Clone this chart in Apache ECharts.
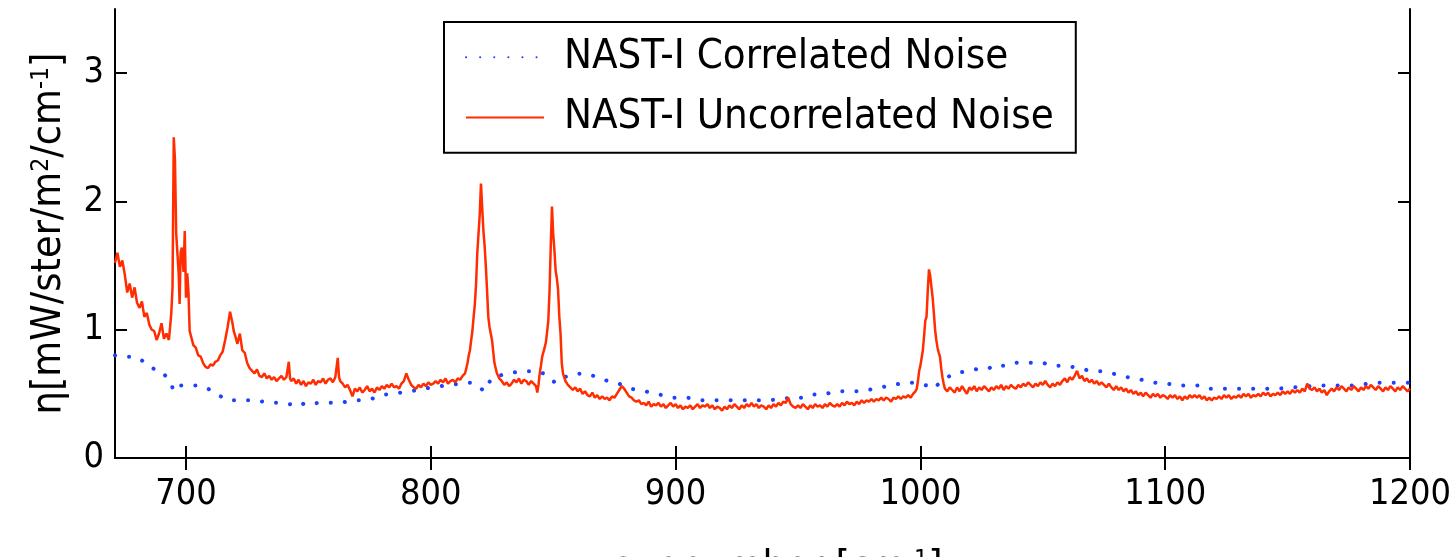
<!DOCTYPE html>
<html><head><meta charset="utf-8">
<script src="https://cdn.jsdelivr.net/npm/echarts@6/dist/echarts.min.js"></script>
<style>html,body{margin:0;padding:0;background:#fff}#c{width:1455px;height:557px}</style>
</head><body><div id="c"></div>
<script>
const xTicks = [700, 800, 900, 1000, 1100, 1200];
const yTicks = [0, 1, 2, 3];
const seriesNames = ['NAST-I Correlated Noise', 'NAST-I Uncorrelated Noise'];

const correlated = [[671,0.80],[675,0.79],[679,0.79],[683,0.75],[686,0.70],[690,0.68],[693.7,0.59],[695,0.52],[696,0.54],[697.4,0.565],[702,0.565],[705,0.565],[709,0.54],[712.4,0.50],[717,0.45],[723,0.45],[728.5,0.45],[734,0.43],[740,0.43],[744.4,0.41],[747,0.43],[749.2,0.41],[754,0.43],[759.5,0.43],[763,0.43],[768.7,0.45],[772,0.45],[778,0.47],[781.6,0.495],[791.8,0.52],[800,0.55],[808,0.57],[814.7,0.586],[817.1,0.586],[820,0.55],[821.8,0.52],[823.5,0.58],[825.3,0.63],[831,0.656],[836.8,0.677],[842.5,0.677],[846,0.66],[849.5,0.61],[850.8,0.586],[853,0.62],[858.7,0.656],[864.4,0.656],[870.3,0.61],[876,0.586],[881.7,0.54],[887.6,0.52],[893.3,0.495],[899.2,0.47],[904.9,0.47],[910.7,0.45],[920,0.45],[930,0.45],[938.4,0.45],[947.5,0.47],[953.4,0.47],[956.7,0.495],[960.2,0.495],[965.9,0.52],[971.6,0.52],[976.4,0.52],[982,0.544],[987.7,0.565],[993.6,0.586],[997,0.586],[1002.7,0.565],[1005,0.54],[1009,0.60],[1013.2,0.656],[1019,0.677],[1024.8,0.70],[1028.2,0.70],[1029.3,0.72],[1035.1,0.72],[1038.5,0.742],[1041.9,0.742],[1047.6,0.742],[1050.1,0.742],[1053.5,0.72],[1059.2,0.72],[1065.1,0.70],[1069.7,0.677],[1074.2,0.677],[1079,0.656],[1084.7,0.63],[1090.3,0.61],[1096.3,0.586],[1099.7,0.586],[1104.3,0.565],[1107.7,0.565],[1113.5,0.565],[1116.8,0.54],[1122.6,0.54],[1128.4,0.54],[1134.1,0.54],[1140,0.54],[1145.7,0.54],[1152,0.55],[1164.1,0.565],[1170,0.565],[1175.7,0.565],[1179.4,0.565],[1183.9,0.586],[1189.3,0.586],[1195.4,0.586],[1200,0.586]];

const uncorrelated = [[671,1.52],[672,1.60],[673,1.49],[674,1.54],[675,1.43],[676,1.29],[677,1.36],[678,1.25],[679,1.33],[680,1.21],[681,1.17],[682,1.22],[683,1.10],[684,1.13],[685,1.04],[686,1.00],[687,0.99],[688,0.92],[689,0.97],[690,1.05],[691,0.93],[692,0.97],[693,0.92],[693.5,1.02],[694,1.13],[694.5,1.33],[695,2.50],[695.5,2.32],[696,1.75],[696.5,1.74],[697,1.44],[697.4,1.20],[697.8,1.60],[698.3,1.64],[699,1.45],[699.5,1.77],[700,1.25],[700.5,1.44],[701,1.30],[701.5,0.99],[702,1.00],[703,0.88],[704,0.86],[705,0.80],[706,0.79],[707,0.74],[708,0.71],[709,0.70],[710,0.73],[711,0.72],[712,0.75],[713,0.76],[714,0.80],[715,0.83],[716,0.92],[717,1.02],[718,1.14],[719,1.05],[719.5,0.99],[720,0.96],[721,0.89],[722,0.97],[723,0.84],[724,0.82],[725,0.74],[726,0.70],[727,0.68],[728,0.66],[729,0.69],[730,0.64],[731,0.63],[732,0.66],[733,0.62],[734,0.64],[735,0.61],[736,0.63],[737,0.60],[738,0.62],[739,0.64],[740,0.61],[741,0.63],[742,0.75],[742.5,0.62],[743,0.60],[744,0.62],[745,0.58],[746,0.61],[747,0.57],[748,0.60],[749,0.56],[750,0.59],[751,0.58],[752,0.61],[753,0.57],[754,0.60],[755,0.59],[756,0.62],[757,0.58],[758,0.61],[759,0.62],[760,0.59],[761,0.63],[762,0.78],[762.5,0.63],[763,0.60],[764,0.58],[765,0.55],[766,0.57],[767,0.53],[768,0.48],[769,0.54],[770,0.52],[771,0.55],[772,0.51],[773,0.53],[774,0.56],[775,0.52],[776,0.54],[777,0.51],[778,0.55],[779,0.53],[780,0.56],[781,0.54],[782,0.57],[783,0.55],[784,0.58],[785,0.55],[786,0.56],[787,0.54],[788,0.58],[789,0.60],[790,0.66],[791,0.61],[792,0.57],[793,0.55],[794,0.54],[795,0.57],[796,0.55],[797,0.58],[798,0.56],[799,0.59],[800,0.57],[801,0.58],[802,0.60],[803,0.58],[804,0.61],[805,0.59],[806,0.62],[807,0.58],[808,0.60],[809,0.61],[810,0.59],[811,0.62],[812,0.61],[813,0.64],[814,0.66],[814.5,0.70],[815,0.74],[815.5,0.80],[816,0.84],[816.5,0.92],[817,0.99],[817.5,1.10],[818,1.20],[818.5,1.36],[819,1.60],[819.5,1.75],[820,1.90],[820.5,2.14],[821,1.95],[821.5,1.77],[822,1.65],[822.5,1.49],[823,1.30],[823.5,1.10],[824,1.02],[825,0.92],[825.5,0.83],[826,0.74],[827,0.66],[828,0.62],[829,0.60],[830,0.57],[831,0.59],[832,0.56],[833,0.58],[834,0.61],[835,0.59],[836,0.62],[837,0.58],[838,0.61],[839,0.60],[840,0.57],[841,0.60],[842,0.58],[843,0.56],[843.5,0.51],[844,0.57],[844.5,0.66],[845,0.72],[845.5,0.79],[846,0.80],[846.5,0.86],[847,0.90],[847.5,0.98],[848,1.07],[848.5,1.30],[849,1.65],[849.5,1.96],[850,1.75],[850.5,1.62],[851,1.46],[851.5,1.40],[852,1.31],[852.5,1.10],[853,0.97],[853.5,0.74],[854,0.66],[855,0.60],[856,0.57],[857,0.55],[858,0.53],[859,0.55],[860,0.52],[861,0.54],[862,0.50],[863,0.52],[864,0.49],[865,0.48],[866,0.51],[867,0.47],[868,0.49],[869,0.46],[870,0.48],[871,0.46],[872,0.47],[873,0.45],[874,0.48],[875,0.47],[876,0.50],[877,0.53],[878,0.56],[879,0.54],[880,0.51],[881,0.48],[882,0.47],[883,0.45],[884,0.44],[885,0.45],[886,0.42],[887,0.43],[888,0.41],[889,0.44],[890,0.40],[891,0.42],[892,0.41],[893,0.43],[894,0.40],[895,0.42],[896,0.39],[897,0.41],[898,0.43],[899,0.40],[900,0.42],[901,0.39],[902,0.41],[903,0.38],[904,0.40],[905,0.39],[906,0.41],[907,0.38],[908,0.40],[909,0.42],[910,0.39],[911,0.41],[912,0.40],[913,0.42],[914,0.39],[915,0.41],[916,0.38],[917,0.40],[918,0.39],[919,0.37],[920,0.40],[921,0.38],[922,0.41],[923,0.39],[924,0.42],[925,0.40],[926,0.38],[927,0.41],[928,0.39],[929,0.42],[930,0.40],[931,0.43],[932,0.40],[933,0.42],[934,0.39],[935,0.41],[936,0.40],[937,0.38],[938,0.41],[939,0.39],[940,0.42],[941,0.40],[942,0.43],[943,0.41],[944,0.44],[945,0.43],[946,0.47],[947,0.42],[948,0.40],[949,0.39],[950,0.41],[951,0.39],[952,0.42],[953,0.40],[954,0.38],[955,0.41],[956,0.39],[957,0.42],[958,0.40],[959,0.41],[960,0.39],[961,0.42],[962,0.40],[963,0.43],[964,0.41],[965,0.40],[966,0.42],[967,0.40],[968,0.43],[969,0.41],[970,0.44],[971,0.42],[972,0.43],[973,0.41],[974,0.44],[975,0.42],[976,0.45],[977,0.43],[978,0.45],[979,0.44],[980,0.46],[981,0.44],[982,0.46],[983,0.45],[984,0.47],[985,0.45],[986,0.47],[987,0.46],[988,0.44],[989,0.47],[990,0.46],[991,0.48],[992,0.46],[993,0.48],[994,0.47],[995,0.49],[996,0.47],[997,0.50],[998,0.52],[998.5,0.54],[999,0.60],[999.5,0.68],[1000,0.72],[1000.5,0.78],[1001,0.84],[1001.5,0.95],[1002,1.07],[1002.5,1.10],[1003,1.30],[1003.5,1.47],[1004,1.42],[1004.5,1.41],[1005,1.25],[1005.5,1.13],[1006,1.00],[1006.5,0.92],[1007,0.86],[1007.5,0.82],[1008,0.79],[1008.5,0.70],[1009,0.63],[1009.5,0.58],[1010,0.54],[1011,0.52],[1012,0.55],[1013,0.53],[1014,0.51],[1015,0.55],[1016,0.52],[1017,0.56],[1018,0.53],[1019,0.50],[1020,0.55],[1021,0.53],[1022,0.56],[1023,0.52],[1024,0.55],[1025,0.53],[1026,0.56],[1027,0.54],[1028,0.52],[1029,0.55],[1030,0.53],[1031,0.56],[1032,0.54],[1033,0.57],[1034,0.53],[1035,0.56],[1036,0.54],[1037,0.57],[1038,0.55],[1039,0.54],[1040,0.57],[1041,0.55],[1042,0.58],[1043,0.56],[1044,0.59],[1045,0.57],[1046,0.55],[1047,0.58],[1048,0.56],[1049,0.59],[1050,0.57],[1051,0.60],[1052,0.57],[1053,0.55],[1054,0.58],[1055,0.56],[1056,0.59],[1057,0.57],[1058,0.60],[1059,0.62],[1060,0.59],[1061,0.63],[1062,0.61],[1063,0.64],[1064,0.68],[1065,0.62],[1066,0.64],[1067,0.60],[1068,0.62],[1069,0.59],[1070,0.61],[1071,0.58],[1072,0.60],[1073,0.57],[1074,0.59],[1075,0.57],[1076,0.55],[1077,0.58],[1078,0.55],[1079,0.53],[1080,0.56],[1081,0.53],[1082,0.55],[1083,0.52],[1084,0.54],[1085,0.51],[1086,0.53],[1087,0.50],[1088,0.52],[1089,0.49],[1090,0.51],[1091,0.48],[1092,0.51],[1093,0.49],[1094,0.47],[1095,0.50],[1096,0.48],[1097,0.50],[1098,0.47],[1099,0.49],[1100,0.48],[1101,0.46],[1102,0.49],[1103,0.47],[1104,0.49],[1105,0.46],[1106,0.48],[1107,0.45],[1108,0.48],[1109,0.46],[1110,0.49],[1111,0.47],[1112,0.49],[1113,0.47],[1114,0.49],[1115,0.46],[1116,0.48],[1117,0.45],[1118,0.47],[1119,0.45],[1120,0.47],[1121,0.46],[1122,0.48],[1123,0.46],[1124,0.49],[1125,0.47],[1126,0.49],[1127,0.46],[1128,0.48],[1129,0.47],[1130,0.49],[1131,0.47],[1132,0.50],[1133,0.48],[1134,0.50],[1135,0.47],[1136,0.49],[1137,0.48],[1138,0.50],[1139,0.48],[1140,0.51],[1141,0.49],[1142,0.51],[1143,0.48],[1144,0.50],[1145,0.49],[1146,0.51],[1147,0.49],[1148,0.52],[1149,0.50],[1150,0.52],[1151,0.50],[1152,0.53],[1153,0.51],[1154,0.53],[1155,0.51],[1156,0.54],[1157,0.52],[1158,0.58],[1159,0.54],[1160,0.53],[1161,0.55],[1162,0.52],[1163,0.54],[1164,0.51],[1165,0.53],[1166,0.49],[1167,0.52],[1168,0.54],[1169,0.52],[1170,0.55],[1171,0.53],[1172,0.56],[1173,0.54],[1174,0.52],[1175,0.55],[1176,0.53],[1177,0.56],[1178,0.54],[1179,0.52],[1180,0.55],[1181,0.53],[1182,0.56],[1183,0.54],[1184,0.57],[1185,0.55],[1186,0.53],[1187,0.56],[1188,0.54],[1189,0.52],[1190,0.55],[1191,0.53],[1192,0.56],[1193,0.54],[1194,0.52],[1195,0.55],[1196,0.53],[1197,0.56],[1198,0.54],[1199,0.52],[1200,0.54]];

// ---- font selection (condensed face if installed) ----
const mctx = document.createElement('canvas').getContext('2d');
function fontOk(name) {
  const s = 'NAST-I Correlated Noise 0123456789';
  mctx.font = '40px monospace'; const w0 = mctx.measureText(s).width;
  mctx.font = '40px "' + name + '", monospace'; const w1 = mctx.measureText(s).width;
  return Math.abs(w0 - w1) > 0.5;
}
const FONT = fontOk('Liberation Sans Narrow') ? '"Liberation Sans Narrow", sans-serif'
           : fontOk('DejaVu Sans Condensed') ? '"DejaVu Sans Condensed", sans-serif'
           : '"Liberation Sans", sans-serif';
function w(text, size) { mctx.font = size + 'px ' + FONT; return mctx.measureText(text).width; }
function sizeFor(text, target) { return 100 * target / w(text, 100); }

const tickSize = sizeFor('1200', 82);
const legendSize = sizeFor(seriesNames[1], 490);
const supRatio = 0.6;
const yLabelParts = ['η[mW/ster/m', '2', '/cm', '-1', ']'];
const ylw = w(yLabelParts[0] + yLabelParts[2] + yLabelParts[4], 100) + supRatio * w(yLabelParts[1] + yLabelParts[3], 100);
const nameSize = 100 * 362 / ylw;

const rich = {
  n: { fontFamily: FONT, fontSize: nameSize, color: '#000' },
  s: { fontFamily: FONT, fontSize: nameSize * supRatio, color: '#000', verticalAlign: 'top' }
};

const chart = echarts.init(document.getElementById('c'), null, { renderer: 'canvas' });
const axisLine = { show: true, lineStyle: { color: '#000', width: 2 } };
const tick = (vals) => ({ show: true, inside: true, length: 12, lineStyle: { color: '#000', width: 2 }, customValues: vals });
const legendGap = 60 - legendSize;
const legendPadV = (130 - 2 * legendSize - legendGap) / 2;

chart.setOption({
  animation: false,
  backgroundColor: '#fff',
  grid: { left: 115, right: 45, top: 9, bottom: 99, containLabel: false, outerBoundsMode: 'none' },
  legend: {
    orient: 'vertical', left: 444, top: 22,
    data: seriesNames,
    padding: [legendPadV, 22, legendPadV, 21],
    itemWidth: 78, itemHeight: 20, itemGap: legendGap,
    itemStyle: { opacity: 0 },
    backgroundColor: '#fff', borderColor: '#000', borderWidth: 2, borderRadius: 0,
    textStyle: { fontFamily: FONT, fontSize: legendSize, color: '#000', padding: [0, 0, 0, 15] },
    selectedMode: false
  },
  xAxis: [
    { type: 'value', position: 'bottom', min: 671, max: 1200,
      axisLine, axisTick: tick(xTicks), splitLine: { show: false },
      axisLabel: { customValues: xTicks, formatter: (v) => String(v), fontFamily: FONT, fontSize: tickSize, color: '#000', margin: 19 },
      name: '{n|wavenumber [cm}{s|-1}{n|]}', nameLocation: 'middle', nameGap: 90,
      nameTextStyle: { rich } },
    { type: 'value', position: 'top', min: 671, max: 1200,
      axisLine, axisTick: tick(xTicks), splitLine: { show: false }, axisLabel: { show: false } }
  ],
  yAxis: [
    { type: 'value', position: 'left', min: 0, max: 3.5,
      axisLine, axisTick: tick(yTicks), splitLine: { show: false },
      axisLabel: { customValues: yTicks, formatter: (v) => String(v), fontFamily: FONT, fontSize: tickSize, color: '#000', margin: 11 },
      name: '{n|' + yLabelParts[0] + '}{s|' + yLabelParts[1] + '}{n|' + yLabelParts[2] + '}{s|' + yLabelParts[3] + '}{n|' + yLabelParts[4] + '}',
      nameLocation: 'middle', nameGap: 45, nameRotate: 90,
      nameTextStyle: { rich } },
    { type: 'value', position: 'right', min: 0, max: 3.5,
      axisLine, axisTick: tick(yTicks), splitLine: { show: false }, axisLabel: { show: false } }
  ],
  series: [
    { name: seriesNames[0], type: 'line', data: correlated, showSymbol: false, symbol: 'none',
      lineStyle: { color: '#2040ff', width: 4, type: [0.1, 14], cap: 'round' },
      itemStyle: { color: '#2040ff' }, z: 2 },
    { name: seriesNames[1], type: 'line', data: uncorrelated, showSymbol: false, symbol: 'none',
      lineStyle: { color: '#ff2d00', width: 2.5 }, itemStyle: { color: '#ff2d00' }, z: 3 }
  ]
});
</script>
</body></html>
